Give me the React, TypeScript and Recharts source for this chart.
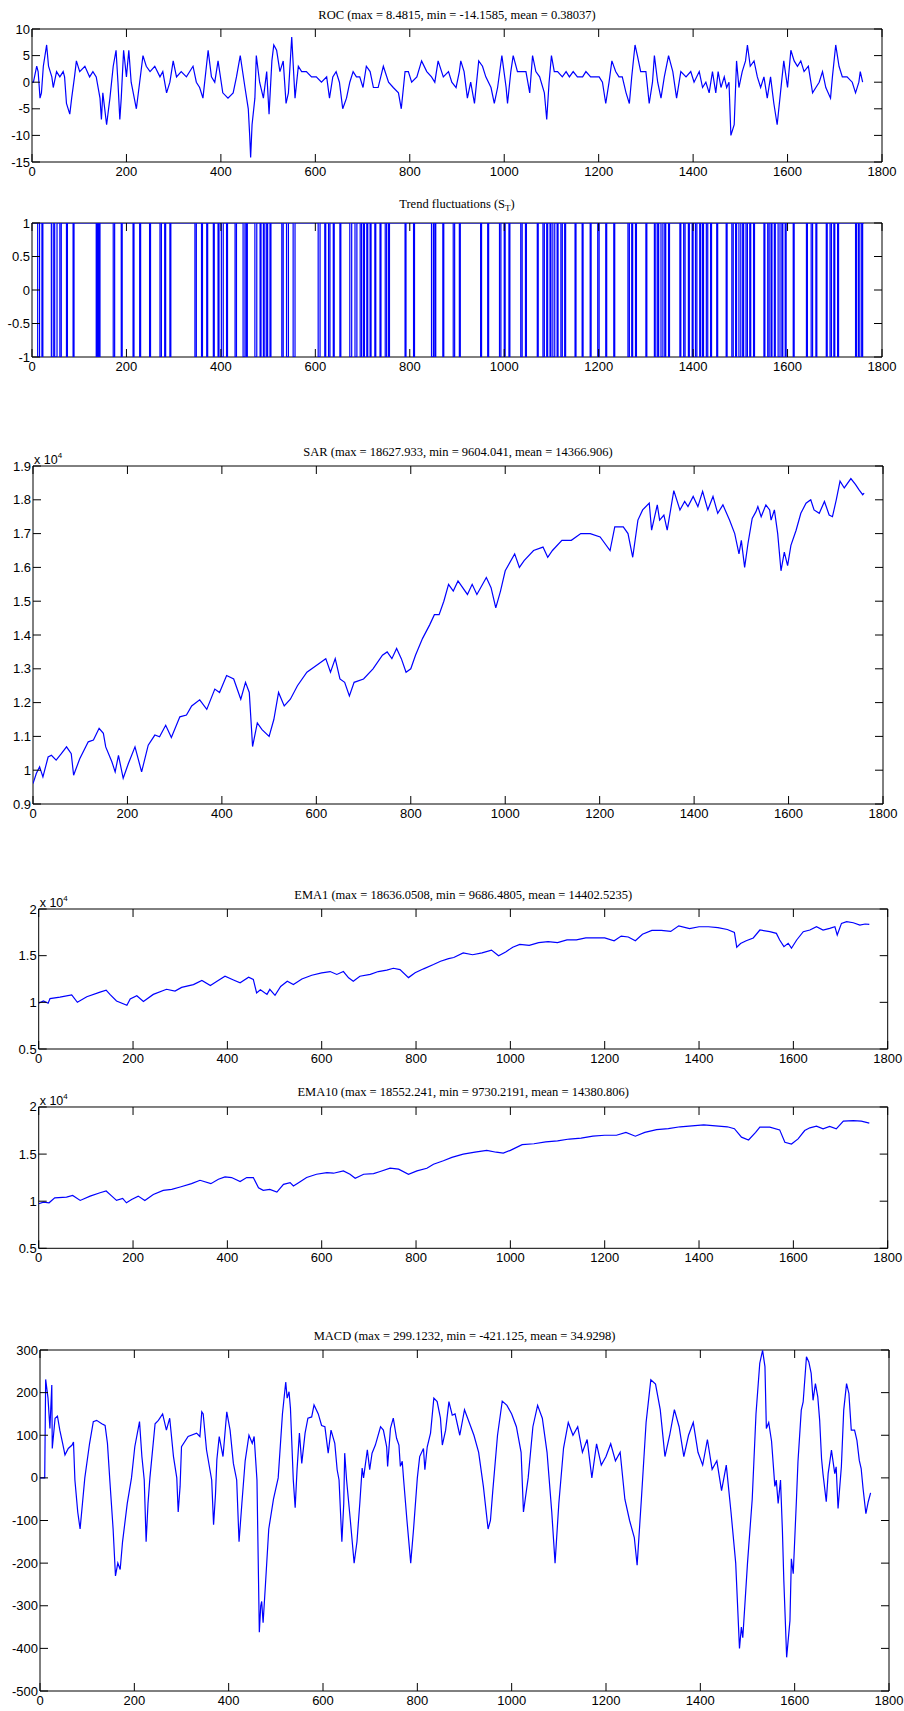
import React from 'react';
import { LineChart, Line, XAxis, YAxis, CartesianGrid } from 'recharts';

// shared x axis
const xTicks = [0, 200, 400, 600, 800, 1000, 1200, 1400, 1600, 1800];

// y ticks per panel
const rocTicks = [-15, -10, -5, 0, 5, 10];
const trendTicks = [-1, -0.5, 0, 0.5, 1];
const sarTicks = [9000, 10000, 11000, 12000, 13000, 14000, 15000, 16000, 17000, 18000, 19000];
const emaTicks = [5000, 10000, 15000, 20000];
const macdTicks = [-500, -400, -300, -200, -100, 0, 100, 200, 300];

// [day, value]
const rocSamples: [number, number][] = [
  [0, 0], [3, 0], [10, 3], [13, 2], [17, -3], [20, -2], [24, 3], [31, 7], [35, 3], [42, 1], [45, -1], [52, 2],
  [59, 1], [66, 2], [69, 1], [73, -4], [80, -6], [84, -3], [90, 1], [94, 4], [101, 2], [112, 3], [122, 1],
  [129, 2], [136, 1], [144, -3], [147, -7], [150, -2], [158, -8], [165, -3], [172, 3], [178, 6], [182, 0],
  [186, -7], [189, -3], [194, 6], [200, 1], [205, 6], [210, 0], [221, -5], [228, 0], [235, 5], [242, 3],
  [250, 2], [260, 3], [271, 1], [277, 2], [285, -2], [292, 0], [299, 4], [306, 1], [316, 2], [327, 1],
  [341, 3], [348, 0], [355, -1], [362, -3], [373, 6], [380, 1], [387, 0], [394, 4], [404, -2], [415, -3],
  [426, -2], [433, 1], [441, 5], [451, -1], [458, -5], [461, -10], [463, -14.16], [466, -8], [472, -3],
  [475, 5], [482, 0], [490, -3], [497, 2], [502, -6], [508, 4], [512, 7], [518, 6], [525, 2], [532, 4],
  [538, -4], [543, -2], [550, 8.48], [557, -3], [564, 3], [571, 2], [581, 2], [592, 1], [602, 1], [613, 0],
  [624, 1], [630, -3], [637, 1], [644, 2], [651, 0], [658, -5], [666, -3], [673, 0], [680, 2], [687, 1],
  [694, 1], [701, -1], [708, 3], [716, 2], [723, -1], [733, -1], [744, 3], [755, 0], [765, -1], [776, -2],
  [782, -5], [790, 2], [797, 2], [804, 0], [815, 1], [825, 4], [836, 2], [846, 1], [853, 0], [860, 4],
  [871, 1], [882, 2], [889, 0], [898, -1], [905, 2], [908, 4], [915, 2], [922, -3], [929, 0], [937, -4],
  [946, 4], [954, 3], [961, 1], [972, -1], [979, -4], [986, -1], [995, 5], [1004, -1], [1007, -4],
  [1014, 2], [1019, 5], [1028, 2], [1039, 2], [1046, 2], [1054, -2], [1060, 5], [1067, 2], [1075, 1],
  [1085, -2], [1090, -7], [1095, 0], [1100, 5], [1106, 2], [1113, 2], [1123, 1], [1131, 2], [1138, 1],
  [1146, 2], [1155, 1], [1166, 1], [1173, 2], [1183, 1], [1194, 1], [1201, 1], [1208, 0], [1215, -4],
  [1222, 0], [1228, 4], [1236, 2], [1243, 1], [1250, 1], [1258, -2], [1265, -4], [1270, 1], [1277, 7],
  [1282, 5], [1289, 2], [1300, 2], [1307, -4], [1314, 0], [1318, 5], [1325, 0], [1332, -3], [1339, 1],
  [1348, 5], [1357, 2], [1365, -3], [1374, 2], [1385, 1], [1395, 2], [1402, 0], [1413, 2], [1420, -1],
  [1427, 0], [1434, -2], [1441, 2], [1448, -2], [1453, 2], [1459, -1], [1466, 1], [1471, -1], [1476, 0],
  [1480, -10], [1487, -8], [1492, 4], [1497, -1], [1504, 2], [1511, 4], [1515, 7], [1521, 3], [1529, 4],
  [1536, 1], [1543, -1], [1550, 1], [1557, -3], [1564, 1], [1571, -4], [1578, -8], [1585, -2], [1592, 4],
  [1600, -1], [1607, 6], [1614, 4], [1621, 3], [1628, 4], [1635, 2], [1644, 3], [1653, -2], [1660, -1],
  [1667, 0], [1674, 2], [1681, -1], [1691, -3], [1695, 1], [1702, 7], [1709, 3], [1716, 1], [1726, 1],
  [1737, 0], [1744, -2], [1751, 0], [1754, 2], [1759, 0],
];

// trend sign: [start day, length] of each stretch at -1, otherwise +1
const trendDips: [number, number][] = [
  [12, 4], [21, 2], [41, 4], [48, 5], [59, 3], [73, 2], [87, 2], [136, 2], [139, 2], [142, 2], [172, 3],
  [189, 2], [214, 2], [228, 2], [249, 2], [271, 3], [281, 2], [292, 2], [345, 3], [359, 2], [370, 2],
  [384, 2], [394, 2], [401, 4], [412, 2], [430, 3], [447, 4], [454, 2], [472, 4], [483, 2], [490, 3],
  [497, 2], [504, 2], [529, 3], [539, 4], [553, 4], [606, 4], [620, 2], [628, 3], [638, 2], [652, 2],
  [673, 4], [684, 4], [695, 3], [702, 2], [709, 2], [716, 2], [726, 2], [737, 2], [748, 3], [755, 2],
  [790, 2], [808, 2], [846, 4], [853, 2], [870, 2], [892, 3], [905, 2], [950, 2], [965, 2], [990, 3],
  [1000, 2], [1010, 2], [1035, 3], [1045, 2], [1070, 2], [1082, 3], [1090, 2], [1097, 2], [1103, 4],
  [1112, 2], [1120, 3], [1128, 2], [1150, 2], [1165, 2], [1182, 2], [1198, 3], [1215, 2], [1232, 2],
  [1262, 3], [1270, 2], [1278, 2], [1300, 2], [1318, 3], [1325, 2], [1332, 4], [1340, 2], [1348, 2],
  [1372, 2], [1380, 3], [1390, 2], [1398, 2], [1405, 3], [1414, 2], [1420, 2], [1428, 3], [1437, 2],
  [1450, 2], [1470, 2], [1482, 3], [1490, 2], [1497, 4], [1505, 2], [1512, 3], [1520, 2], [1528, 2],
  [1550, 2], [1558, 3], [1565, 2], [1572, 2], [1580, 4], [1588, 2], [1595, 2], [1612, 2], [1640, 2],
  [1650, 3], [1660, 2], [1682, 2], [1690, 3], [1698, 2], [1706, 2], [1744, 2], [1750, 3], [1757, 2],
];
const trendEnd = 1762;

const sarSamples: [number, number][] = [
  [0, 9604], [7, 9900], [14, 10100], [21, 9800], [32, 10390], [39, 10440], [49, 10300], [60, 10490],
  [71, 10690], [81, 10490], [86, 9850], [99, 10340], [117, 10840], [128, 10890], [140, 11240], [149, 11090],
  [154, 10690], [167, 10250], [174, 9950], [181, 10440], [191, 9760], [202, 10200], [216, 10690],
  [230, 9950], [244, 10740], [258, 11040], [268, 10990], [281, 11330], [293, 10970], [311, 11580],
  [325, 11630], [336, 11900], [353, 12080], [368, 11800], [385, 12400], [395, 12300], [410, 12800],
  [425, 12700], [440, 12100], [450, 12600], [458, 12300], [465, 10700], [475, 11400], [485, 11200],
  [500, 11000], [510, 11500], [520, 12300], [532, 11900], [545, 12100], [560, 12500], [580, 12900],
  [600, 13100], [620, 13300], [630, 12900], [640, 13300], [650, 12700], [660, 12600], [670, 12200],
  [680, 12600], [700, 12700], [720, 13000], [740, 13400], [750, 13500], [760, 13300], [770, 13600],
  [780, 13300], [790, 12900], [800, 13000], [810, 13400], [825, 13900], [840, 14300], [850, 14600],
  [860, 14600], [870, 15000], [880, 15500], [890, 15300], [900, 15600], [920, 15200], [930, 15500],
  [940, 15200], [960, 15700], [970, 15400], [980, 14800], [990, 15300], [1000, 15900], [1020, 16400],
  [1030, 16000], [1040, 16200], [1060, 16500], [1080, 16600], [1090, 16300], [1100, 16500], [1120, 16800],
  [1140, 16800], [1160, 17000], [1180, 17000], [1201, 16900], [1222, 16500], [1232, 17200], [1250, 17200],
  [1260, 17000], [1270, 16300], [1281, 17400], [1291, 17700], [1305, 17900], [1310, 17100], [1322, 17850],
  [1327, 17400], [1336, 17550], [1343, 17100], [1357, 18270], [1370, 17700], [1380, 17950], [1387, 17800],
  [1398, 18100], [1408, 17800], [1418, 18250], [1429, 17700], [1440, 18100], [1450, 17600], [1461, 17850],
  [1475, 17400], [1486, 17000], [1495, 16400], [1500, 16800], [1507, 16000], [1514, 16700], [1523, 17450],
  [1531, 17650], [1535, 17800], [1542, 17500], [1552, 17850], [1560, 17700], [1563, 17400], [1570, 17700],
  [1577, 17000], [1584, 15900], [1591, 16450], [1598, 16050], [1605, 16650], [1616, 17100], [1626, 17600],
  [1637, 17900], [1647, 18000], [1654, 17700], [1665, 17600], [1676, 17950], [1686, 17550], [1693, 17500],
  [1701, 18000], [1709, 18550], [1718, 18350], [1732, 18628], [1742, 18450], [1749, 18300], [1757, 18150],
  [1760, 18200],
];

const ema1Samples: [number, number][] = [
  [0, 9900], [10, 10150], [20, 9900], [24, 10400], [45, 10550], [70, 10800], [82, 10000], [102, 10600],
  [130, 11100], [143, 11300], [151, 10850], [165, 10150], [187, 9690], [194, 10350], [208, 10700],
  [222, 10100], [243, 10850], [271, 11400], [289, 11200], [303, 11600], [328, 11900], [346, 12350],
  [364, 11800], [378, 12250], [395, 12800], [413, 12400], [427, 12100], [445, 12700], [455, 12450],
  [462, 11000], [470, 11350], [484, 10850], [490, 11390], [501, 10750], [513, 11700], [527, 12250],
  [540, 11900], [558, 12500], [579, 12900], [600, 13150], [618, 13300], [632, 12990], [646, 13300],
  [657, 12630], [667, 12270], [681, 12800], [703, 12990], [720, 13300], [738, 13450], [752, 13650],
  [766, 13500], [784, 12650], [798, 13170], [816, 13590], [837, 14050], [852, 14400], [869, 14690],
  [880, 14800], [900, 15300], [920, 15100], [940, 15300], [960, 15600], [975, 15000], [990, 15400],
  [1005, 15900], [1020, 16200], [1040, 16100], [1060, 16400], [1080, 16500], [1100, 16400], [1120, 16700],
  [1140, 16700], [1160, 16900], [1180, 16900], [1200, 16900], [1220, 16600], [1235, 17100], [1250, 17000],
  [1265, 16600], [1280, 17300], [1300, 17700], [1320, 17700], [1340, 17600], [1357, 18200], [1380, 17900],
  [1400, 18100], [1420, 18100], [1440, 18000], [1460, 17800], [1475, 17500], [1480, 15900], [1488, 16300],
  [1500, 16600], [1515, 16900], [1529, 17750], [1550, 17570], [1564, 17390], [1571, 16680], [1580, 15970],
  [1589, 16330], [1596, 15800], [1607, 16680], [1621, 17570], [1635, 17750], [1649, 18110], [1663, 17750],
  [1677, 17930], [1688, 18110], [1693, 17220], [1702, 18460], [1713, 18636], [1727, 18530], [1741, 18280],
  [1752, 18390], [1761, 18350],
];

const ema10Samples: [number, number][] = [
  [0, 9730], [10, 9900], [22, 9830], [34, 10360], [59, 10430], [72, 10610], [88, 10080], [109, 10540],
  [130, 10900], [143, 11080], [155, 10540], [165, 10080], [178, 10290], [186, 9830], [197, 10190],
  [211, 10540], [225, 10080], [243, 10720], [264, 11150], [282, 11260], [300, 11510], [324, 11860],
  [342, 12220], [365, 11860], [381, 12330], [395, 12580], [409, 12510], [427, 12080], [441, 12510],
  [455, 12510], [466, 11430], [476, 11150], [490, 11260], [505, 10970], [519, 11790], [533, 11970],
  [540, 11610], [551, 11970], [568, 12510], [589, 12860], [611, 13040], [625, 12970], [646, 13220],
  [660, 12860], [671, 12430], [689, 12860], [710, 12930], [724, 13150], [745, 13500], [763, 13400],
  [784, 12860], [802, 13220], [823, 13500], [837, 13930], [858, 14290], [876, 14650], [900, 15000],
  [925, 15200], [950, 15400], [970, 15200], [985, 15100], [1000, 15400], [1025, 16000], [1050, 16100],
  [1075, 16300], [1100, 16400], [1125, 16600], [1150, 16700], [1175, 16900], [1200, 17000], [1225, 17000],
  [1245, 17300], [1265, 16900], [1285, 17300], [1310, 17600], [1335, 17700], [1360, 17900], [1385, 18000],
  [1410, 18100], [1435, 18000], [1460, 17900], [1475, 17700], [1490, 16800], [1505, 16500], [1520, 17300],
  [1529, 17860], [1550, 17860], [1571, 17570], [1582, 16250], [1596, 16070], [1610, 16610], [1624, 17500],
  [1635, 17790], [1649, 17960], [1663, 17680], [1677, 17930], [1691, 17680], [1706, 18500], [1727, 18552],
  [1744, 18500], [1761, 18290],
];

const macdSamples: [number, number][] = [
  [0, 0], [10, 0], [12, 231], [17, 187], [21, 116], [25, 218], [26, 69], [32, 140], [37, 145], [42, 112],
  [48, 81], [53, 54], [60, 69], [68, 77], [71, 84], [74, -5], [80, -80], [85, -120], [90, -60], [95, 0],
  [105, 80], [113, 132], [120, 135], [131, 127], [138, 123], [143, 81], [148, -5], [155, -120], [160, -230],
  [165, -200], [170, -215], [175, -150], [185, -60], [194, 0], [201, 73], [211, 132], [216, 50], [221, -5],
  [225, -150], [229, -60], [233, 0], [244, 127], [251, 135], [260, 150], [268, 112], [275, 140], [283, 50],
  [290, 0], [293, -80], [297, -20], [300, 73], [314, 97], [332, 105], [339, 97], [343, 155], [346, 150],
  [353, 66], [364, -5], [368, -110], [372, -40], [375, 43], [380, 97], [388, 50], [396, 155], [403, 112],
  [410, 34], [417, -5], [422, -150], [428, -60], [435, 40], [443, 100], [450, 81], [454, 97], [460, -5],
  [465, -362], [468, -300], [470, -290], [473, -340], [478, -250], [485, -120], [495, -50], [505, 0],
  [514, 150], [521, 225], [524, 187], [528, 202], [531, 163], [537, -5], [541, -70], [545, 20], [550, 105],
  [555, 34], [562, 105], [568, 140], [576, 143], [581, 171], [590, 150], [597, 123], [604, 120], [611, 58],
  [617, 112], [625, 81], [630, 19], [634, -5], [640, -150], [644, -60], [646, 58], [650, -5], [658, -100],
  [666, -200], [672, -150], [678, -60], [683, 23], [686, 0], [694, 66], [699, 19], [704, 58], [711, 77],
  [722, 120], [728, 112], [735, 73], [737, 27], [743, 116], [749, 140], [756, 93], [761, 77], [764, 27],
  [768, 39], [771, -5], [778, -100], [786, -200], [792, -120], [800, 0], [805, 50], [813, 69], [816, 19],
  [821, 73], [828, 105], [835, 187], [842, 179], [849, 140], [853, 77], [860, 112], [867, 179], [874, 147],
  [880, 150], [890, 100], [900, 160], [910, 130], [920, 100], [930, 60], [940, -20], [950, -120], [955, -100],
  [960, -30], [970, 100], [980, 180], [990, 170], [1000, 150], [1010, 120], [1020, 60], [1025, -80],
  [1035, 0], [1045, 120], [1055, 170], [1065, 140], [1075, 60], [1085, -80], [1092, -200], [1100, -60],
  [1110, 70], [1120, 130], [1130, 100], [1140, 120], [1150, 60], [1160, 90], [1170, 0], [1180, 80],
  [1190, 30], [1200, 50], [1210, 80], [1220, 40], [1230, 60], [1240, -50], [1250, -100], [1260, -140],
  [1266, -205], [1275, -50], [1285, 130], [1295, 230], [1305, 220], [1315, 160], [1325, 50], [1335, 100],
  [1345, 160], [1355, 120], [1365, 50], [1375, 100], [1385, 130], [1395, 60], [1405, 30], [1415, 90],
  [1425, 20], [1435, 40], [1445, -30], [1455, 30], [1465, -80], [1475, -200], [1483, -400], [1487, -350],
  [1490, -375], [1500, -200], [1510, -50], [1518, 150], [1526, 269], [1532, 299], [1537, 261], [1540, 116],
  [1545, 130], [1551, 86], [1558, -20], [1561, -5], [1565, -60], [1570, -5], [1574, -123], [1577, -240],
  [1583, -421], [1590, -335], [1593, -190], [1597, -225], [1604, -45], [1607, 38], [1614, 159], [1618, 178],
  [1625, 284], [1630, 272], [1635, 245], [1639, 182], [1644, 221], [1649, 190], [1653, 135], [1657, 45],
  [1660, 10], [1667, -56], [1671, 10], [1678, 65], [1685, 10], [1688, 26], [1692, -72], [1699, 26],
  [1704, 159], [1710, 221], [1715, 198], [1720, 112], [1727, 112], [1732, 88], [1737, 41], [1741, 22],
  [1745, -25], [1751, -84], [1756, -56], [1761, -35],
];

const PAGE_W = 904;
const PAD = 30;
const TICK_LEN = 8;
const LINE_COLOR = '#0000ff';
const SANS = '"Liberation Sans", Arial, Helvetica, sans-serif';
const SERIF = '"Liberation Serif", "Times New Roman", serif';
const TICK_FONT = 13;

type Row = { x: number; y: number };

const toRows = (pts: [number, number][]): Row[] => pts.map(([x, y]) => ({ x, y }));

function trendRows(): Row[] {
  const rows: Row[] = [{ x: 0, y: 1 }];
  for (const [s, len] of trendDips) {
    rows.push({ x: s, y: 1 }, { x: s, y: -1 }, { x: s + len, y: -1 }, { x: s + len, y: 1 });
  }
  rows.push({ x: trendEnd, y: 1 });
  return rows;
}

interface PanelProps {
  box: [number, number, number, number]; // left, top, right, bottom of plot area
  data: Row[];
  yDomain: [number, number];
  yTicks: number[];
  yLabel?: (v: number) => string;
  title: React.ReactNode;
  titleY: number;
  exponent?: boolean;
}

function Panel({ box, data, yDomain, yTicks, yLabel = (v) => String(v), title, titleY, exponent }: PanelProps) {
  const [l, t, r, b] = box;
  const plotH = b - t;
  const h = plotH + 2 * PAD;
  const top = PAD;
  const bottom = PAD + plotH;

  // ticks point inward on all four sides, MATLAB style
  const xTick = (props: any) => {
    const { x, payload } = props;
    return (
      <g>
        <line x1={x} x2={x} y1={bottom} y2={bottom - TICK_LEN} stroke="#000" />
        <line x1={x} x2={x} y1={top} y2={top + TICK_LEN} stroke="#000" />
        <text x={x} y={bottom + 13.5} textAnchor="middle" fontSize={TICK_FONT} fontFamily={SANS} fill="#000">
          {payload.value}
        </text>
      </g>
    );
  };

  const yTick = (props: any) => {
    const { y, payload } = props;
    return (
      <g>
        <line x1={l} x2={l + TICK_LEN} y1={y} y2={y} stroke="#000" />
        <line x1={r} x2={r - TICK_LEN} y1={y} y2={y} stroke="#000" />
        <text x={l - 2} y={y + 4.5} textAnchor="end" fontSize={TICK_FONT} fontFamily={SANS} fill="#000">
          {yLabel(payload.value)}
        </text>
      </g>
    );
  };

  return (
    <>
      <div
        style={{
          position: 'absolute',
          left: l,
          width: r - l,
          top: titleY - 8,
          lineHeight: '16px',
          textAlign: 'center',
          fontFamily: SERIF,
          fontSize: 12.5,
          color: '#000',
          whiteSpace: 'nowrap',
        }}
      >
        {title}
      </div>
      {exponent && (
        <div
          style={{
            position: 'absolute',
            left: l + 1,
            top: t - 17,
            fontFamily: SANS,
            fontSize: 12.5,
            lineHeight: '14px',
            color: '#000',
          }}
        >
          x 10<sup style={{ fontSize: 8, verticalAlign: 6 }}>4</sup>
        </div>
      )}
      <div style={{ position: 'absolute', left: 0, top: t - PAD, width: PAGE_W, height: h }}>
        <LineChart
          width={PAGE_W}
          height={h}
          data={data}
          margin={{ top: PAD, right: PAGE_W - r, bottom: PAD - 20, left: 0 }}
        >
          <CartesianGrid
            horizontalPoints={[top, bottom]}
            verticalPoints={[l, r]}
            stroke="#000"
            strokeWidth={1}
          />
          <XAxis
            type="number"
            dataKey="x"
            domain={[0, 1800]}
            ticks={xTicks}
            interval={0}
            height={20}
            tickSize={0}
            tickMargin={0}
            tickLine={false}
            axisLine={false}
            tick={xTick}
            allowDataOverflow
          />
          <YAxis
            type="number"
            dataKey="y"
            domain={yDomain}
            ticks={yTicks}
            interval={0}
            width={l}
            tickSize={0}
            tickMargin={0}
            tickLine={false}
            axisLine={false}
            tick={yTick}
            allowDataOverflow
          />
          <Line
            type="linear"
            dataKey="y"
            stroke={LINE_COLOR}
            strokeWidth={1.2}
            dot={false}
            activeDot={false}
            isAnimationActive={false}
          />
        </LineChart>
      </div>
    </>
  );
}

const eFmt = (v: number) => String(+(v / 10000).toFixed(2));

export default function App() {
  return (
    <div style={{ position: 'absolute', left: 0, top: 0, width: PAGE_W, height: 1711, background: '#fff' }}>
      <Panel
        box={[32, 29, 882, 162]}
        data={toRows(rocSamples)}
        yDomain={[-15, 10]}
        yTicks={rocTicks}
        title="ROC (max = 8.4815, min = -14.1585, mean = 0.38037)"
        titleY={15}
      />
      <Panel
        box={[32, 223, 882, 357]}
        data={trendRows()}
        yDomain={[-1, 1]}
        yTicks={trendTicks}
        title={
          <span>
            Trend fluctuations (S<sub style={{ fontSize: 9, verticalAlign: -3 }}>T</sub>)
          </span>
        }
        titleY={204}
      />
      <Panel
        box={[33, 466, 883, 804]}
        data={toRows(sarSamples)}
        yDomain={[9000, 19000]}
        yTicks={sarTicks}
        yLabel={eFmt}
        title="SAR (max = 18627.933, min = 9604.041, mean = 14366.906)"
        titleY={452}
        exponent
      />
      <Panel
        box={[38.7, 909, 887.7, 1049]}
        data={toRows(ema1Samples)}
        yDomain={[5000, 20000]}
        yTicks={emaTicks}
        yLabel={eFmt}
        title="EMA1 (max = 18636.0508, min = 9686.4805, mean = 14402.5235)"
        titleY={895}
        exponent
      />
      <Panel
        box={[38.7, 1106.7, 887.7, 1248]}
        data={toRows(ema10Samples)}
        yDomain={[5000, 20000]}
        yTicks={emaTicks}
        yLabel={eFmt}
        title="EMA10 (max = 18552.241, min = 9730.2191, mean = 14380.806)"
        titleY={1092}
        exponent
      />
      <Panel
        box={[40, 1350, 889, 1691]}
        data={toRows(macdSamples)}
        yDomain={[-500, 300]}
        yTicks={macdTicks}
        title="MACD (max = 299.1232, min = -421.125, mean = 34.9298)"
        titleY={1336}
      />
    </div>
  );
}
